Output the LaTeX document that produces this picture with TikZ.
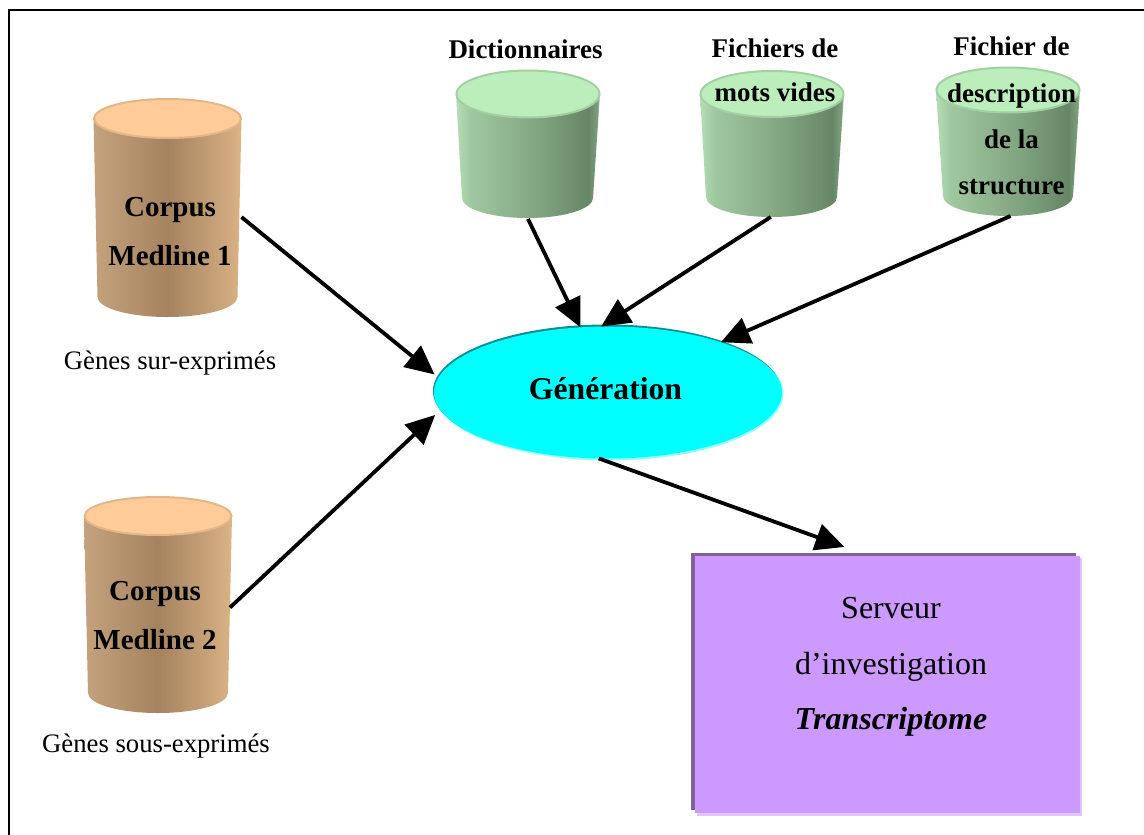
\documentclass[tikz,border=0pt]{standalone}
\usepackage{fontspec}
\setmainfont{Liberation Serif}
\usetikzlibrary{arrows.meta,shapes.geometric}
\definecolor{tan1}{HTML}{FFCC99}
\definecolor{tan2}{HTML}{E3B688}
\definecolor{mint1}{HTML}{BBEEBB}
\definecolor{mint2}{HTML}{A3D0A3}
\definecolor{serverface}{HTML}{CC99FF}
\definecolor{serverdark}{HTML}{80609A}
\definecolor{serverlight}{HTML}{E0C4FF}
\definecolor{gentop}{HTML}{0E8F96}
\definecolor{genlow}{HTML}{99FFFF}
\definecolor{genface}{HTML}{00FFFF}
\definecolor{bA}{HTML}{C4A27E}
\definecolor{bB}{HTML}{A5835F}
\definecolor{bC}{HTML}{D3AC80}
\definecolor{bD}{HTML}{DDB585}
\definecolor{gA}{HTML}{B4DEB4}
\definecolor{gB}{HTML}{A0C8A0}
\definecolor{gC}{HTML}{86AA86}
\definecolor{gD}{HTML}{668766}
\definecolor{gE}{HTML}{7C9E7C}
\definecolor{gF}{HTML}{A8CCA8}
\pgfdeclarehorizontalshading{brownside}{100bp}{
  color(0bp)=(bA);
  color(25bp)=(bA);
  color(50bp)=(bB);
  color(72bp)=(bC);
  color(75bp)=(bD);
  color(100bp)=(bD)}
\pgfdeclarehorizontalshading{greenside}{100bp}{
  color(0bp)=(gA);
  color(25bp)=(gA);
  color(30bp)=(gB);
  color(50bp)=(gC);
  color(71bp)=(gD);
  color(74bp)=(gE);
  color(75bp)=(gF);
  color(100bp)=(gF)}
\tikzset{
  x=1pt,y=-1pt,
  arrowline/.style={line width=3.8pt,-{Triangle[length=29pt,width=27pt]}},
  boldlabel/.style={font=\fontsize{27}{46.4}\selectfont\bfseries,align=center,inner sep=0pt},
  corpuslabel/.style={font=\fontsize{29}{49}\selectfont\bfseries,align=center,inner sep=0pt},
  caption/.style={font=\fontsize{26.7}{32}\selectfont,inner sep=0pt},
  hull/.style={inner sep=0pt,outer sep=0pt},
}
\begin{document}
\begin{tikzpicture}
\useasboundingbox (0,0) rectangle (1144,835);
\fill[white] (0,0) rectangle (1144,835);
\draw[line width=2pt] (9,835) -- (9,10) -- (1144,10);

% corpus drums
\shade[shading=brownside] (93.5,118.5) -- (97.5,297) arc[start angle=180,end angle=0,x radius=70,y radius=20] -- (241.5,118.5) -- cycle;
\filldraw[fill=tan1,draw=tan2,line width=2pt] (167.5,118.5) ellipse[x radius=73.5,y radius=19.5];
\node[hull,minimum width=148pt,minimum height=218pt] (c1) at (167.5,208) {};

\shade[shading=brownside] (84,516) -- (88,693) arc[start angle=180,end angle=0,x radius=70,y radius=20] -- (232,516) -- cycle;
\filldraw[fill=tan1,draw=tan2,line width=2pt] (158,516) ellipse[x radius=73.5,y radius=19];
\node[hull,minimum width=144pt,minimum height=216pt] (c2) at (158,605) {};

% green drums
\shade[shading=greenside] (456,94) -- (462,198) arc[start angle=180,end angle=0,x radius=65.5,y radius=20] -- (600,94) -- cycle;
\filldraw[fill=mint1,draw=mint2,line width=2pt] (528,94) ellipse[x radius=71.5,y radius=23.5];
\node[hull,minimum width=145pt,minimum height=149pt] (d1) at (528,144.5) {};

\shade[shading=greenside] (700,94) -- (706,197) arc[start angle=180,end angle=0,x radius=65.5,y radius=20] -- (844,94) -- cycle;
\filldraw[fill=mint1,draw=mint2,line width=2pt] (772,94) ellipse[x radius=71.5,y radius=23];
\node[hull,minimum width=145pt,minimum height=147pt] (d2) at (772,143.5) {};

\shade[shading=greenside] (936,90) -- (943,196) arc[start angle=180,end angle=0,x radius=65,y radius=20] -- (1080,90) -- cycle;
\filldraw[fill=mint1,draw=mint2,line width=2pt] (1008,90) ellipse[x radius=71.5,y radius=22.5];
\node[hull,minimum width=145pt,minimum height=149pt] (d3) at (1008,141.5) {};

% generation ellipse
\fill[genlow] (609.5,393.5) ellipse[x radius=174,y radius=67];
\fill[gentop] (607,391) ellipse[x radius=174,y radius=66.5];
\node[hull,ellipse,fill=genface,minimum width=348pt,minimum height=132pt] (gen) at (608,392.5) {};

% server box
\fill[serverlight] (697,558) rectangle (1082,816);
\fill[serverdark] (691,553) rectangle (1076,810);
\node[hull,fill=serverface,minimum width=385pt,minimum height=257pt] (srv) at (887.5,684.5) {};

% connectors
\draw[arrowline,shorten >=5pt] (c1.-7.7) -- (gen.175.5);
\draw[arrowline,shorten >=7pt] (c2.-2.4) -- (gen.186.4);
\draw[arrowline] (d1.-90) -- (gen.113.7);
\draw[arrowline] (d2.-91) -- (gen.96.9);
\draw[arrowline] (d3.-88) -- (gen.24.3);
\draw[arrowline,shorten >=26.6pt] (gen.-98.6) -- (srv.98.6);

% texts
\node[corpuslabel] (t1) at (170,232) {Corpus\\Medline 1};
\node[corpuslabel] (t2) at (155,616) {Corpus\\Medline 2};
\node[boldlabel] (t3) at (525.5,49) {Dictionnaires};
\node[boldlabel,font=\fontsize{27}{44}\selectfont\bfseries] (t4) at (775,70) {Fichiers de\\mots vides};
\node[boldlabel] (t5) at (1011.5,116) {Fichier de\\description\\de la\\structure};
\node[inner sep=0pt,font=\fontsize{31.7}{36}\selectfont\bfseries] (t6) at (605.5,389) {Génération};
\node[caption] (t7) at (170,363) {Gènes sur-exprimés};
\node[caption] (t8) at (156,746) {Gènes sous-exprimés};
\node[inner sep=0pt,align=center,font=\fontsize{32}{55.5}\selectfont] (t9) at (891,667) {Serveur\\d’investigation\\\textbf{\textit{Transcriptome}}};
\end{tikzpicture}
\end{document}
